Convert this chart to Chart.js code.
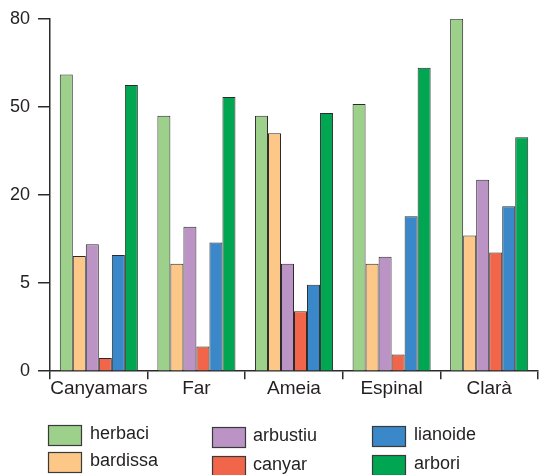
<!DOCTYPE html>
<html>
<head>
<meta charset="utf-8">
<script src="https://cdn.jsdelivr.net/npm/chart.js@4"></script>
<style>
  html, body { margin: 0; padding: 0; background: #fff; }
  #wrap { width: 539px; height: 475px; position: relative; }
</style>
</head>
<body>
<div id="wrap"><canvas id="c" width="539" height="475"></canvas></div>
<script>
const categories = ['Canyamars', 'Far', 'Ameia', 'Espinal', 'Clarà'];
const tickLabels = [0, 5, 20, 50, 80];
const herbaci  = [61, 47, 47, 51, 80];
const bardissa = [9.6, 8.3, 41, 8.3, 13.1];
const arbustiu = [11.6, 14.6, 8.3, 9.5, 25.2];
const canyar   = [0.75, 1.4, 3.4, 0.95, 10.2];
const lianoide = [9.8, 11.9, 4.9, 16.4, 18.1];
const arbori   = [57.5, 53.4, 47.9, 63.3, 39.7];

const seriesNames = ['herbaci', 'bardissa', 'arbustiu', 'canyar', 'lianoide', 'arbori'];
const seriesData = [herbaci, bardissa, arbustiu, canyar, lianoide, arbori];
const seriesColors = ['#9dd08a', '#fdc788', '#bb94c5', '#f1664a', '#3a88c9', '#00a651'];

// The axis ticks are equally spaced although their labels are not:
// map a value onto the tick index (piecewise linear between labels).
function toAxis(v) {
  for (let i = 0; i < tickLabels.length - 1; i++) {
    if (v <= tickLabels[i + 1]) {
      return i + (v - tickLabels[i]) / (tickLabels[i + 1] - tickLabels[i]);
    }
  }
  return tickLabels.length - 1;
}

const FONT = "'Liberation Sans', Arial, Helvetica, sans-serif";

const legendPlugin = {
  id: 'customLegend',
  afterDraw(chart) {
    const ctx = chart.ctx;
    const cols = [
      { box: 48, text: 90, ys: [425, 452] },
      { box: 212, text: 253, ys: [427, 456] },
      { box: 372, text: 414, ys: [426, 455] }
    ];
    ctx.save();
    ctx.font = '18px ' + FONT;
    ctx.textBaseline = 'middle';
    chart.data.datasets.forEach((ds, i) => {
      const col = cols[Math.floor(i / 2)];
      const y = col.ys[i % 2];
      ctx.fillStyle = ds.backgroundColor;
      ctx.fillRect(col.box, y, 33, 20);
      ctx.strokeStyle = '#3a3a3a';
      ctx.lineWidth = 1.2;
      ctx.strokeRect(col.box + 0.5, y + 0.5, 33, 20);
      ctx.fillStyle = '#231f20';
      ctx.fillText(ds.label, col.text, y + 9);
    });
    ctx.restore();
  }
};

new Chart(document.getElementById('c'), {
  type: 'bar',
  data: {
    labels: categories,
    datasets: seriesNames.map((n, i) => ({
      label: n,
      data: seriesData[i].map(toAxis),
      rawValues: seriesData[i],
      backgroundColor: seriesColors[i],
      borderColor: '#2b2b2b',
      borderWidth: 1,
      categoryPercentage: 0.8,
      barPercentage: 1.0
    }))
  },
  options: {
    responsive: false,
    animation: false,
    layout: { padding: { left: 2, right: 1, top: 8, bottom: 77 } },
    plugins: {
      legend: { display: false },
      tooltip: {
        callbacks: {
          label: (c) => c.dataset.label + ': ' + c.dataset.rawValues[c.dataIndex]
        }
      }
    },
    scales: {
      x: {
        grid: { display: true, drawOnChartArea: false, offset: true, tickLength: 8, color: '#2b2b2b', lineWidth: 1.5 },
        border: { display: true, color: '#2b2b2b', width: 1.5 },
        ticks: { color: '#231f20', font: { family: FONT, size: 19 }, padding: -2, maxRotation: 0, minRotation: 0, autoSkip: false }
      },
      y: {
        min: 0,
        max: tickLabels.length - 1,
        grid: { display: true, drawOnChartArea: false, tickLength: 12, color: '#2b2b2b', lineWidth: 1.5 },
        border: { display: true, color: '#2b2b2b', width: 1.5 },
        ticks: {
          stepSize: 1,
          color: '#231f20',
          font: { family: FONT, size: 18 },
          padding: 8,
          callback: (v) => tickLabels[v]
        }
      }
    }
  },
  plugins: [legendPlugin]
});
</script>
</body>
</html>
